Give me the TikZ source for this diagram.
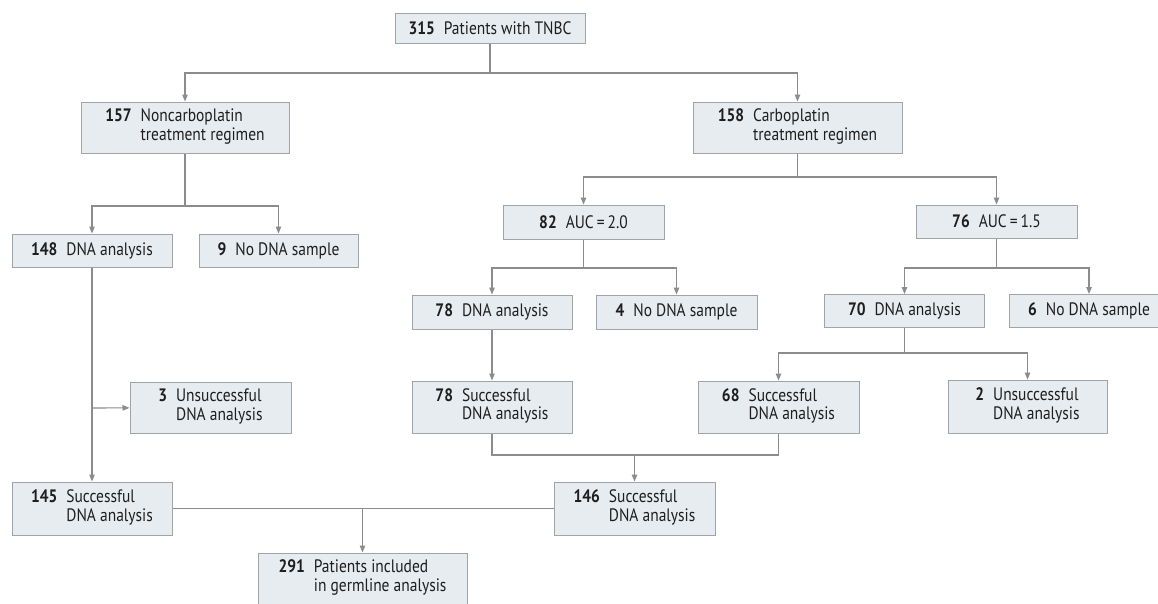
\documentclass[tikz,border=0pt]{standalone}
\usepackage{fontspec}
\setmainfont{PT Sans}[FakeStretch=0.86]
\usetikzlibrary{arrows.meta}
\definecolor{boxfill}{HTML}{E6ECF0}
\definecolor{boxline}{HTML}{A0A4A8}
\definecolor{conn}{HTML}{8C8C8C}
\definecolor{txt}{HTML}{1E1E1E}
\newcommand{\lab}[3]{\textbf{#1}\enspace\begin{tabular}[t]{@{}l@{}}#2\\#3\end{tabular}}
\newcommand{\labone}[2]{\textbf{#1}\enspace #2}
\begin{document}
\begin{tikzpicture}[x=1pt,y=-1pt,
  box/.style={draw=boxline,fill=boxfill,line width=1pt,inner sep=0pt,
    text=txt,font=\fontsize{18}{18.5}\selectfont,align=left},
  link/.style={draw=conn,line width=1.1pt},
  arr/.style={link,-{Triangle[length=7pt,width=5.5pt]}}]
\clip (0,0) rectangle (1158,603);
\fill[white] (0,0) rectangle (1158,603);
\useasboundingbox (0,0) rectangle (1158,603);
% nodes
\node[box,minimum width=190pt,minimum height=30pt] (top) at (490,28) {\labone{315}{Patients with TNBC}};
\node[box,minimum width=208pt,minimum height=51pt] (n157) at (185,127.5) {\lab{157}{Noncarboplatin}{treatment regimen}};
\node[box,minimum width=209pt,minimum height=51pt] (n158) at (797.5,127.5) {\lab{158}{Carboplatin}{treatment regimen}};
\node[box,minimum width=160pt,minimum height=33pt] (n148) at (92,250.5) {\labone{148}{DNA analysis}};
\node[box,minimum width=159pt,minimum height=33pt] (n9) at (278.5,250.5) {\labone{9}{No DNA sample}};
\node[box,minimum width=161pt,minimum height=34pt] (n82) at (583.5,222) {\labone{82}{AUC\,=\,2.0}};
\node[box,minimum width=161pt,minimum height=33pt] (n76) at (996.5,221.5) {\labone{76}{AUC\,=\,1.5}};
\node[box,minimum width=160pt,minimum height=34pt] (n78a) at (492,312) {\labone{78}{DNA analysis}};
\node[box,minimum width=161pt,minimum height=34pt] (n4) at (676.5,312) {\labone{4}{No DNA sample}};
\node[box,minimum width=160pt,minimum height=33pt] (n70) at (904.5,311) {\labone{70}{DNA analysis}};
\node[box,minimum width=160pt,minimum height=33pt] (n6) at (1089,311) {\labone{6}{No DNA sample}};
\node[box,minimum width=161pt,minimum height=51pt] (n3) at (210.5,407.5) {\lab{3}{Unsuccessful}{DNA analysis}};
\node[box,minimum width=160pt,minimum height=52pt] (n78s) at (492,407) {\lab{78}{Successful}{DNA analysis}};
\node[box,minimum width=161pt,minimum height=52pt] (n68) at (778.5,407) {\lab{68}{Successful}{DNA analysis}};
\node[box,minimum width=159pt,minimum height=53pt] (n2) at (1027.5,406.5) {\lab{2}{Unsuccessful}{DNA analysis}};
\node[box,minimum width=160pt,minimum height=53pt] (n145) at (92,508.5) {\lab{145}{Successful}{DNA analysis}};
\node[box,minimum width=161pt,minimum height=53pt] (n146) at (634.5,508.5) {\lab{146}{Successful}{DNA analysis}};
\node[box,minimum width=209pt,minimum height=51pt] (n291) at (362.5,578.5) {\lab{291}{Patients included}{in germline analysis}};
% junctions
\coordinate (j1) at (490,73);
\coordinate (j2) at (185,206);
\coordinate (j3) at (797.5,177);
\coordinate (j4) at (583.5,268);
\coordinate (j5) at (996.5,268);
\coordinate (j6) at (904.5,353);
\coordinate (j7) at (634.5,455);
\coordinate (j8) at (362.5,508.5);
\coordinate (j9) at (92,408);
% connectors
\draw[link] (top) -- (j1);
\draw[arr] (j1) -| (n157);
\draw[arr] (j1) -| (n158);
\draw[link] (n157) -- (j2);
\draw[arr] (j2) -| (n148);
\draw[arr] (j2) -| (n9);
\draw[link] (n158) -- (j3);
\draw[arr] (j3) -| (n82);
\draw[arr] (j3) -| (n76);
\draw[link] (n82) -- (j4);
\draw[arr] (j4) -| (n78a);
\draw[arr] (j4) -| (n4);
\draw[link] (n76) -- (j5);
\draw[arr] (j5) -| (n70);
\draw[arr] (j5) -| (n6);
\draw[link] (n70) -- (j6);
\draw[arr] (j6) -| (n68);
\draw[arr] (j6) -| (n2);
\draw[arr] (n78a) -- (n78s);
\draw[arr] (n148) -- (n145);
\draw[arr] (j9) -- (n3);
\draw[link] (n78s) |- (j7);
\draw[link] (n68) |- (j7);
\draw[arr] (j7) -- (n146);
\draw[link] (n145) -- (n146);
\draw[arr] (j8) -- (n291);
\end{tikzpicture}
\end{document}
